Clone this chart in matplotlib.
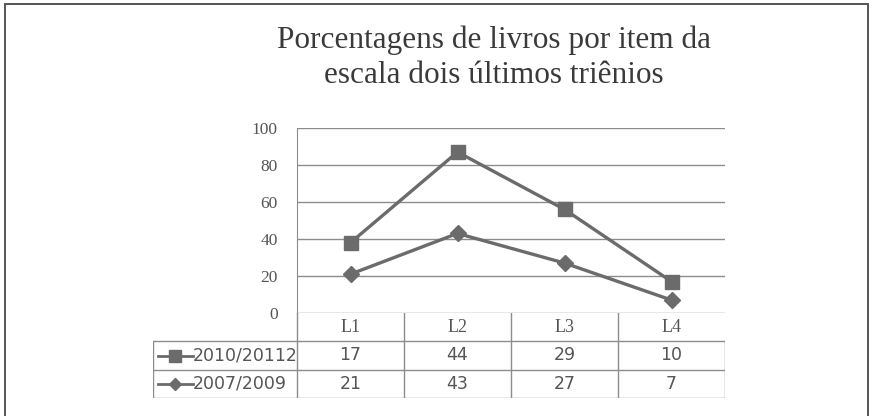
import numpy as np
import matplotlib
matplotlib.use("Agg")
import matplotlib.pyplot as plt
from matplotlib.patches import Rectangle

# data
categories = ["L1", "L2", "L3", "L4"]
series_labels = ["2010/20112", "2007/2009"]
vals_2010 = np.array([17, 44, 29, 10])
vals_2007 = np.array([21, 43, 27, 7])
yticks = [0, 20, 40, 60, 80, 100]

title_lines = ["Porcentagens de livros por item da", "escala dois últimos triênios"]

LINE_C = "#6b6b6b"
GRID_C = "#8c8c8c"
TEXT_C = "#555555"
W, H = 874, 416


def fx(px):
    return px / W


def fy(py):
    return 1 - py / H


fig = plt.figure(figsize=(8.74, 4.16), dpi=100)

# outer frame (open at bottom)
fig.patches.append(Rectangle((fx(5), -0.05), fx(868) - fx(5), fy(4) + 0.05,
                             transform=fig.transFigure, fill=False,
                             edgecolor="#555555", lw=1.4))

for line, base in zip(title_lines, [48, 83]):
    fig.text(fx(494), fy(base), line, ha="center", va="baseline", fontsize=22.5,
             family="Liberation Serif", color="#3a3a3a")

# plot area
ax = fig.add_axes([fx(297), fy(313), fx(725) - fx(297), fy(128) - fy(313)])
x = np.arange(len(categories))
top = vals_2007 + vals_2010  # stacked line
ax.plot(x, top, color=LINE_C, lw=2.4, marker="s", ms=10, zorder=3, clip_on=False)
ax.plot(x, vals_2007, color=LINE_C, lw=2.4, marker="D", ms=8, zorder=3, clip_on=False)
ax.set_xlim(-0.5, len(categories) - 0.5)
ax.set_ylim(0, 100)
ax.set_yticks(yticks)
ax.set_xticks([])
for v in yticks:
    ax.axhline(v, color=GRID_C, lw=1.0, zorder=1)
for s in ["top", "right", "bottom"]:
    ax.spines[s].set_visible(False)
ax.spines["left"].set_color(GRID_C)
ax.tick_params(axis="y", length=0, pad=14, labelsize=12.5, labelcolor=TEXT_C)
for lbl in ax.get_yticklabels():
    lbl.set_family("Liberation Serif")

# data table under the plot
x0 = -0.5 - (297 - 153) / 107
ax_t = fig.add_axes([fx(153), fy(398), fx(725) - fx(153), fy(313) - fy(398)])
ax_t.set_xlim(x0, len(categories) - 0.5)
ax_t.set_ylim(0, 3)
ax_t.axis("off")

tl = dict(color=GRID_C, lw=1.0)
for yy in [0, 1, 2]:
    ax_t.plot([x0, len(categories) - 0.5], [yy, yy], **tl)
ax_t.plot([x0, x0], [0, 2], **tl)
ax_t.plot([len(categories) - 0.5] * 2, [0, 2], **tl)
for k in range(len(categories)):
    ax_t.plot([k - 0.5, k - 0.5], [0, 3], **tl)
    ax_t.text(k, 2.5, categories[k], ha="center", va="center", fontsize=13,
              family="Liberation Serif", color=TEXT_C)

rows = [(vals_2010, "s", 8), (vals_2007, "D", 6)]
for r, (vals, mk, ms) in enumerate(rows):
    yc = 1.5 - r
    ax_t.plot([x0 + 0.05, x0 + 0.37], [yc, yc], color=LINE_C, lw=2.0)
    ax_t.plot([x0 + 0.21], [yc], color=LINE_C, marker=mk, ms=ms, lw=0)
    ax_t.text(x0 + 0.37, yc, series_labels[r], ha="left", va="center",
              fontsize=12.5, family="DejaVu Sans", color=TEXT_C)
    for k, v in enumerate(vals):
        ax_t.text(k, yc, str(v), ha="center", va="center", fontsize=12.5,
                  family="DejaVu Sans", color=TEXT_C)

fig.savefig("out.png", dpi=100)
